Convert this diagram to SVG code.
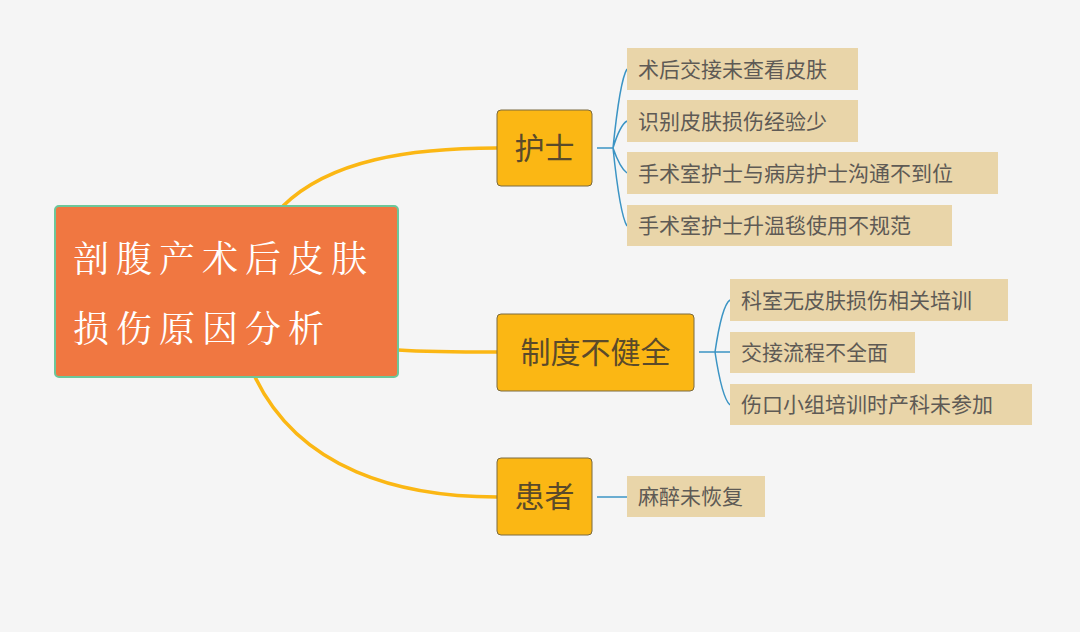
<svg xmlns="http://www.w3.org/2000/svg" width="1080" height="632" viewBox="0 0 1080 632">
<style>
.main{fill:#fbb714;stroke:#7a6a40;stroke-width:1}
.mt{font-family:"Noto Sans CJK SC",sans-serif;font-size:30px;fill:#5a4a2a}
.leaf{fill:#e9d5a9}
.lt{font-family:"Noto Sans CJK SC",sans-serif;font-size:21px;fill:#5e5a55}
.oc{fill:none;stroke:#fbb714;stroke-width:3.5}
.bc{fill:none;stroke:#3b94c4;stroke-width:1.5}
</style>
<rect width="1080" height="632" fill="#f5f5f5"/>
<g id="connectors">
<path class="oc" d="M283 206 C330 160 410 148 497 148"/>
<path class="oc" d="M398 350 C430 352 460 352 497 352"/>
<path class="oc" d="M255 377 C300 470 400 497 497 497"/>
<path class="bc" d="M597 148 H613 M613 148 Q620 80 627 69 M613 148 Q620 125 627 121 M613 148 Q620 168 627 173 M613 148 Q620 215 627 226"/>
<path class="bc" d="M699 352 H715 M715 352 Q722 305 730 300 M715 352 Q722 352 730 352 M715 352 Q722 398 730 405"/>
<path class="bc" d="M597 497 H627"/>
</g>
<g id="root">
<rect x="55" y="206" width="343" height="171" rx="4" fill="#f07741" stroke="#6cc79a" stroke-width="2"/>
<text x="73" y="272" font-family="Noto Serif CJK SC,Noto Sans CJK SC,serif" font-size="36" fill="#fff" letter-spacing="7">剖腹产术后皮肤</text>
<text x="73" y="342" font-family="Noto Serif CJK SC,Noto Sans CJK SC,serif" font-size="36" fill="#fff" letter-spacing="7">损伤原因分析</text>
</g>
<g id="n1"><rect class="main" x="497" y="110" width="95" height="76" rx="4"/><text class="mt" x="544.5" y="159" text-anchor="middle">护士</text></g>
<g id="n2"><rect class="main" x="497" y="314" width="197" height="77" rx="4"/><text class="mt" x="595.5" y="363" text-anchor="middle">制度不健全</text></g>
<g id="n3"><rect class="main" x="497" y="458" width="95" height="77" rx="4"/><text class="mt" x="544.5" y="507" text-anchor="middle">患者</text></g>
<g id="l1"><rect class="leaf" x="627" y="48" width="231" height="42"/><text class="lt" x="638" y="77">术后交接未查看皮肤</text></g>
<g id="l2"><rect class="leaf" x="627" y="100" width="231" height="42"/><text class="lt" x="638" y="129">识别皮肤损伤经验少</text></g>
<g id="l3"><rect class="leaf" x="627" y="152" width="371" height="42"/><text class="lt" x="638" y="181">手术室护士与病房护士沟通不到位</text></g>
<g id="l4"><rect class="leaf" x="627" y="205" width="325" height="41"/><text class="lt" x="638" y="233">手术室护士升温毯使用不规范</text></g>
<g id="l5"><rect class="leaf" x="730" y="279" width="278" height="42"/><text class="lt" x="741" y="308">科室无皮肤损伤相关培训</text></g>
<g id="l6"><rect class="leaf" x="730" y="332" width="185" height="41"/><text class="lt" x="741" y="360">交接流程不全面</text></g>
<g id="l7"><rect class="leaf" x="730" y="384" width="302" height="41"/><text class="lt" x="741" y="412">伤口小组培训时产科未参加</text></g>
<g id="l8"><rect class="leaf" x="627" y="476" width="138" height="41"/><text class="lt" x="638" y="504">麻醉未恢复</text></g>
</svg>
